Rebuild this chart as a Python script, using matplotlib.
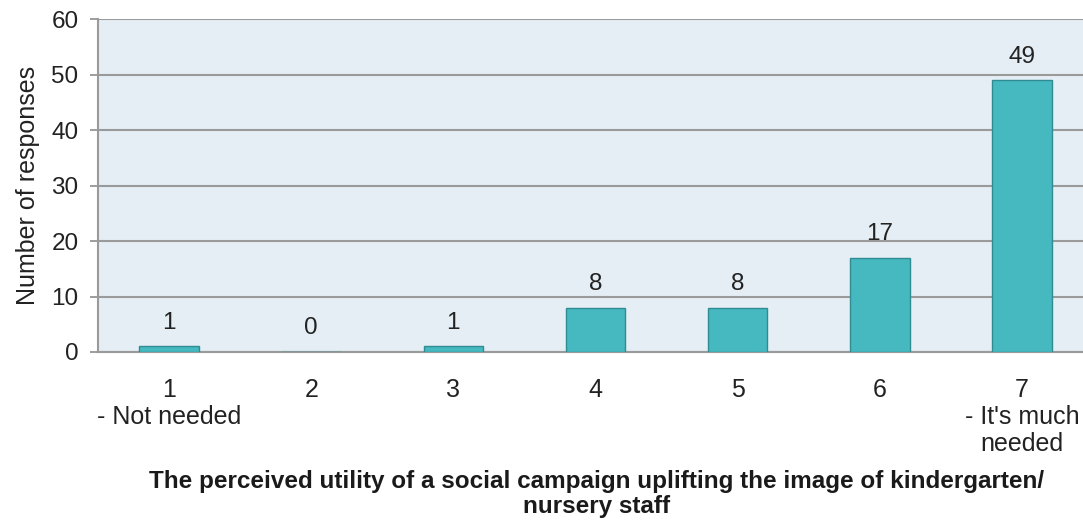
import matplotlib
matplotlib.use("Agg")
import matplotlib.pyplot as plt

categories = ["1\n- Not needed", "2", "3", "4", "5", "6", "7\n- It's much\nneeded"]
values = [1, 0, 1, 8, 8, 17, 49]
yticks = [0, 10, 20, 30, 40, 50, 60]

plt.rcParams['font.family'] = ['Liberation Sans', 'DejaVu Sans']

fig = plt.figure(figsize=(10.83, 5.23), dpi=100)
ax = fig.add_axes([0.0905, 0.327, 0.9187, 0.6363])
ax.set_facecolor('#E5EEF4')

x = list(range(len(values)))
bars = ax.bar(x, values, width=0.42, color='#45B8C0', edgecolor='#2F8C92', linewidth=1.0, zorder=3)
for xi, v in zip(x, values):
    ax.annotate(str(v), (xi, v), xytext=(0, 17), textcoords='offset points',
                ha='center', va='center', fontsize=17.5, color='#222222')

ax.set_xlim(-0.5, len(values) - 0.5)
ax.set_ylim(0, 60)
ax.set_yticks(yticks)
ax.set_yticklabels([str(t) for t in yticks], fontsize=17.5, color='#222222')
ax.set_xticks(x)
ax.set_xticklabels(categories, fontsize=18, color='#222222', linespacing=1.15, va='top')
ax.tick_params(axis='x', length=0, pad=19)
ax.tick_params(axis='y', length=6, color='#8C8C8C', width=1.2, pad=8)
ax.yaxis.grid(True, color='#9A9A9A', linewidth=1.5, zorder=1)
ax.set_axisbelow(True)
for s in ['top', 'right']:
    ax.spines[s].set_visible(False)
ax.spines['left'].set_color('#9A9A9A')
ax.spines['left'].set_linewidth(1.5)
ax.spines['bottom'].set_color('#9A9A9A')
ax.spines['bottom'].set_linewidth(1.5)

ax.set_ylabel("Number of responses", fontsize=18, color='#222222', labelpad=8)
fig.text(0.551, 0.101, "The perceived utility of a social campaign uplifting the image of kindergarten/\nnursery staff",
         ha='center', va='top', fontsize=17.5, fontweight='bold', color='#1a1a1a', linespacing=1.1)

fig.savefig("out.png", dpi=100)
